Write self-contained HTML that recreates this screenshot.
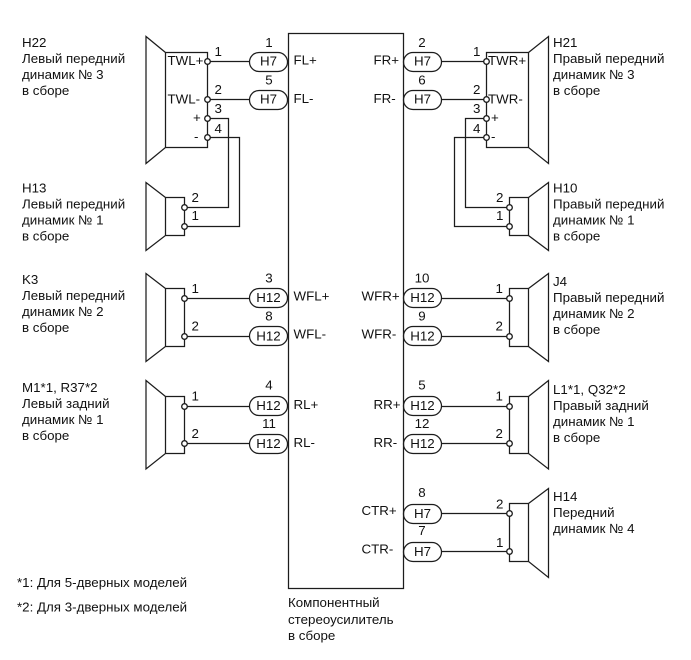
<!DOCTYPE html>
<html><head><meta charset="utf-8"><style>
html,body{margin:0;padding:0;background:#fff}
svg{display:block}
text{font-family:"Liberation Sans",Arial,sans-serif;font-size:13.33px;fill:#111}
.l{fill:none;stroke:#1c1c1c;stroke-width:1.25}
.c{fill:#fff;stroke:#1c1c1c;stroke-width:1.3}
.m{text-anchor:middle}
</style></head><body>
<svg width="691" height="660" viewBox="0 0 691 660" xmlns="http://www.w3.org/2000/svg">
<rect class="l" x="288.5" y="33.5" width="115" height="555"/>

<!-- left speakers -->
<path class="l" d="M165.5 52.5L146 36.5V163.5L165.5 147.5ZM165.5 52.5H207.5V147.5H165.5"/>
<path class="l" d="M165.5 197.5L146 182.5V250.5L165.5 235.5ZM165.5 197.5H184.5V235.5H165.5"/>
<path class="l" d="M165.5 288.5L146 273.5V361.5L165.5 346.5ZM165.5 288.5H184.5V346.5H165.5"/>
<path class="l" d="M165.5 396.5L146 380.5V469L165.5 453.5ZM165.5 396.5H184.5V453.5H165.5"/>
<!-- right speakers -->
<path class="l" d="M528.5 52.5L548.5 36.5V163.5L528.5 147.5ZM528.5 52.5H486.5V147.5H528.5"/>
<path class="l" d="M528.5 197.5L548.5 182.5V250.5L528.5 235.5ZM528.5 197.5H509.5V235.5H528.5"/>
<path class="l" d="M528.5 288.5L548.5 273.5V361.5L528.5 346.5ZM528.5 288.5H509.5V346.5H528.5"/>
<path class="l" d="M528.5 396.5L548.5 380.5V469L528.5 453.5ZM528.5 396.5H509.5V453.5H528.5"/>
<path class="l" d="M528.5 503.5L548.5 488.5V577.5L528.5 561.5ZM528.5 503.5H509.5V561.5H528.5"/>

<!-- wires -->
<path class="l" d="M207.5 61.5H250M207.5 99.5H250M207.5 118.5H228.5V207.5H184.5M207.5 137.5H239.5V226.5H184.5"/>
<path class="l" d="M184.5 298.5H250M184.5 336.5H250M184.5 406.5H250M184.5 443.5H250"/>
<path class="l" d="M486.5 61.5H442M486.5 99.5H442M486.5 118.5H465.5V207.5H509.5M486.5 137.5H454.5V226.5H509.5"/>
<path class="l" d="M509.5 298.5H442M509.5 336.5H442M509.5 406.5H442M509.5 443.5H442M509.5 513.5H442M509.5 551.5H442"/>

<!-- pills left -->
<rect class="l" x="249.5" y="52.5" width="38" height="19" rx="9.5"/>
<rect class="l" x="249.5" y="90.5" width="38" height="19" rx="9.5"/>
<rect class="l" x="249.5" y="288.5" width="38" height="19" rx="9.5"/>
<rect class="l" x="249.5" y="326.5" width="38" height="19" rx="9.5"/>
<rect class="l" x="249.5" y="396.5" width="38" height="19" rx="9.5"/>
<rect class="l" x="249.5" y="434.5" width="38" height="19" rx="9.5"/>
<!-- pills right -->
<rect class="l" x="403.5" y="52.5" width="38" height="19" rx="9.5"/>
<rect class="l" x="403.5" y="90.5" width="38" height="19" rx="9.5"/>
<rect class="l" x="403.5" y="288.5" width="38" height="19" rx="9.5"/>
<rect class="l" x="403.5" y="326.5" width="38" height="19" rx="9.5"/>
<rect class="l" x="403.5" y="396.5" width="38" height="19" rx="9.5"/>
<rect class="l" x="403.5" y="434.5" width="38" height="19" rx="9.5"/>
<rect class="l" x="403.5" y="504.5" width="38" height="19" rx="9.5"/>
<rect class="l" x="403.5" y="542.5" width="38" height="19" rx="9.5"/>

<!-- terminals -->
<g class="c">
<circle cx="207.5" cy="61.5" r="2.8"/><circle cx="207.5" cy="99.5" r="2.8"/><circle cx="207.5" cy="118.5" r="2.8"/><circle cx="207.5" cy="137.5" r="2.8"/>
<circle cx="184.5" cy="207.5" r="2.8"/><circle cx="184.5" cy="226.5" r="2.8"/>
<circle cx="184.5" cy="298.5" r="2.8"/><circle cx="184.5" cy="336.5" r="2.8"/>
<circle cx="184.5" cy="406.5" r="2.8"/><circle cx="184.5" cy="443.5" r="2.8"/>
<circle cx="486.5" cy="61.5" r="2.8"/><circle cx="486.5" cy="99.5" r="2.8"/><circle cx="486.5" cy="118.5" r="2.8"/><circle cx="486.5" cy="137.5" r="2.8"/>
<circle cx="509.5" cy="207.5" r="2.8"/><circle cx="509.5" cy="226.5" r="2.8"/>
<circle cx="509.5" cy="298.5" r="2.8"/><circle cx="509.5" cy="336.5" r="2.8"/>
<circle cx="509.5" cy="406.5" r="2.8"/><circle cx="509.5" cy="443.5" r="2.8"/>
<circle cx="509.5" cy="513.5" r="2.8"/><circle cx="509.5" cy="551.5" r="2.8"/>
</g>

<!-- pill labels -->
<g class="m">
<text x="268.5" y="65.5">H7</text><text x="268.5" y="103.5">H7</text>
<text x="268.5" y="302">H12</text><text x="268.5" y="340.5">H12</text>
<text x="268.5" y="410">H12</text><text x="268.5" y="448">H12</text>
<text x="422.5" y="65.5">H7</text><text x="422.5" y="103.5">H7</text>
<text x="422.5" y="302">H12</text><text x="422.5" y="340.5">H12</text>
<text x="422.5" y="410">H12</text><text x="422.5" y="448">H12</text>
<text x="422.5" y="518">H7</text><text x="422.5" y="556">H7</text>
<!-- pin numbers over pills -->
<text x="269" y="47">1</text><text x="269" y="84.5">5</text>
<text x="269" y="282.5">3</text><text x="269" y="320.5">8</text>
<text x="269" y="389.5">4</text><text x="269" y="428">11</text>
<text x="422" y="47">2</text><text x="422" y="84.5">6</text>
<text x="422" y="282.5">10</text><text x="422" y="320.5">9</text>
<text x="422" y="389.5">5</text><text x="422" y="428">12</text>
<text x="422" y="497">8</text><text x="422" y="535">7</text>
</g>

<!-- amplifier pins -->
<text x="293.5" y="64.5">FL+</text><text x="293.5" y="103">FL-</text>
<text x="293.5" y="300.5">WFL+</text><text x="293.5" y="338.5">WFL-</text>
<text x="293.5" y="409">RL+</text><text x="293.5" y="447">RL-</text>
<text x="373.5" y="64.5">FR+</text><text x="373.5" y="103">FR-</text>
<text x="361.5" y="300.5">WFR+</text><text x="361.5" y="338.5">WFR-</text>
<text x="373.5" y="409">RR+</text><text x="373.5" y="447">RR-</text>
<text x="361.5" y="515">CTR+</text><text x="361.5" y="553.5">CTR-</text>

<!-- inner labels -->
<text x="167.5" y="65">TWL+</text><text x="167.5" y="103.5">TWL-</text>
<text x="193" y="122">+</text><text x="194" y="141">-</text>
<text x="488" y="65">TWR+</text><text x="488" y="103.5">TWR-</text>
<text x="491" y="122">+</text><text x="491" y="141">-</text>

<!-- terminal numbers -->
<text x="214.5" y="56">1</text><text x="214.5" y="94">2</text><text x="214.5" y="113">3</text><text x="214.5" y="133">4</text>
<text x="191.5" y="202">2</text><text x="191.5" y="220">1</text>
<text x="191.5" y="293">1</text><text x="191.5" y="330.5">2</text>
<text x="191.5" y="400.5">1</text><text x="191.5" y="438">2</text>
<text x="473" y="56">1</text><text x="473" y="94">2</text><text x="473" y="113">3</text><text x="473" y="133">4</text>
<text x="496" y="202">2</text><text x="496" y="220">1</text>
<text x="495.5" y="293">1</text><text x="495.5" y="330.5">2</text>
<text x="495.5" y="400.5">1</text><text x="495.5" y="438">2</text>
<text x="496" y="508.5">2</text><text x="496" y="547">1</text>

<!-- captions -->
<text x="22" y="47">H22</text><text x="22" y="63">Левый передний</text><text x="22" y="79">динамик № 3</text><text x="22" y="95">в сборе</text>
<text x="22" y="192.5">H13</text><text x="22" y="208.5">Левый передний</text><text x="22" y="224.5">динамик № 1</text><text x="22" y="240.5">в сборе</text>
<text x="22" y="284">K3</text><text x="22" y="300">Левый передний</text><text x="22" y="316">динамик № 2</text><text x="22" y="332">в сборе</text>
<text x="22" y="392">M1*1, R37*2</text><text x="22" y="408">Левый задний</text><text x="22" y="424">динамик № 1</text><text x="22" y="440">в сборе</text>
<text x="553" y="47">H21</text><text x="553" y="63">Правый передний</text><text x="553" y="79">динамик № 3</text><text x="553" y="95">в сборе</text>
<text x="553" y="192.5">H10</text><text x="553" y="208.5">Правый передний</text><text x="553" y="224.5">динамик № 1</text><text x="553" y="240.5">в сборе</text>
<text x="553" y="286">J4</text><text x="553" y="302">Правый передний</text><text x="553" y="318">динамик № 2</text><text x="553" y="334">в сборе</text>
<text x="553" y="394">L1*1, Q32*2</text><text x="553" y="410">Правый задний</text><text x="553" y="426">динамик № 1</text><text x="553" y="442">в сборе</text>
<text x="553" y="501">H14</text><text x="553" y="517">Передний</text><text x="553" y="533">динамик № 4</text>
<text x="288" y="607">Компонентный</text><text x="288" y="624">стереоусилитель</text><text x="288" y="640">в сборе</text>
<text x="17" y="587">*1: Для 5-дверных моделей</text>
<text x="17" y="611.5">*2: Для 3-дверных моделей</text>
</svg>
</body></html>
